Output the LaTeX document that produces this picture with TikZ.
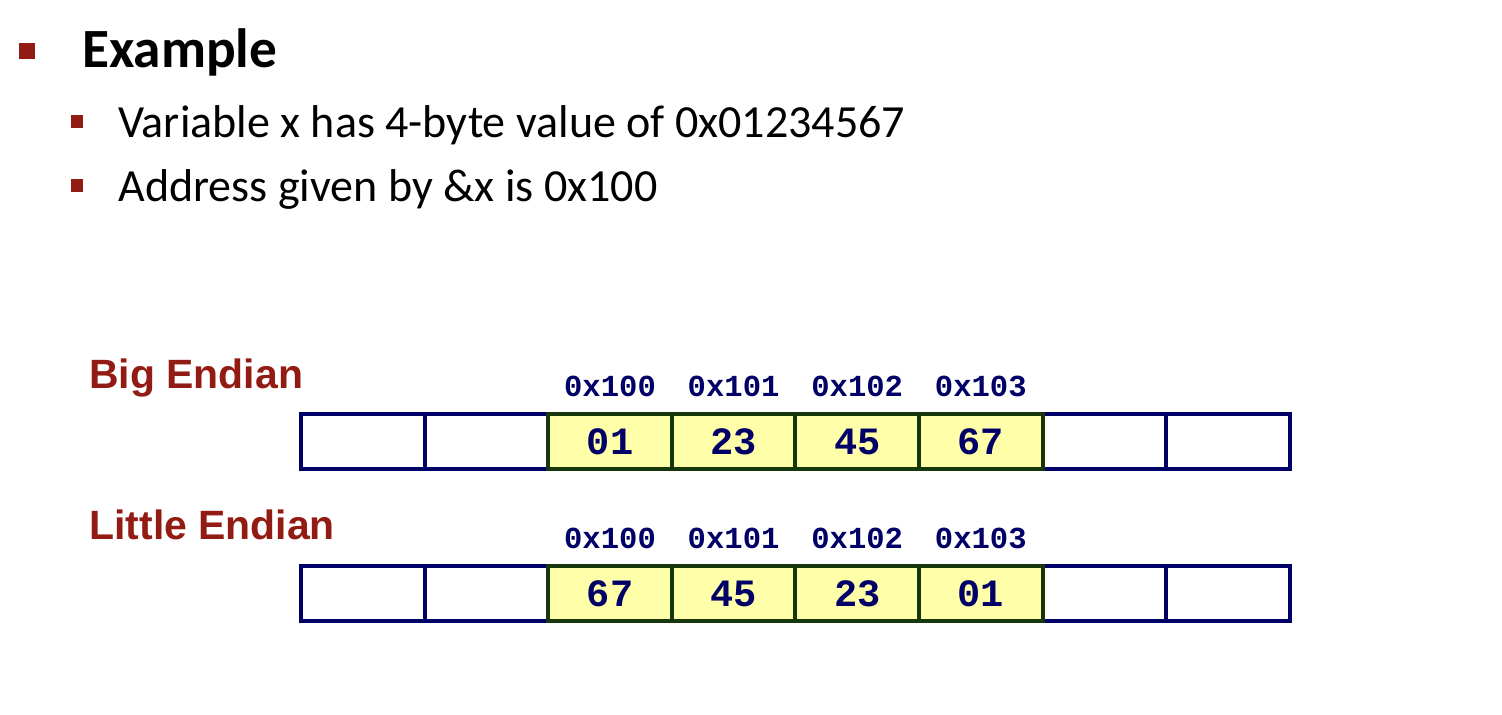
\documentclass[tikz,border=0pt]{standalone}
\usepackage{fontspec}
\setmainfont{Carlito}
\newfontfamily\arialfont{Liberation Sans}
\newfontfamily\courierfont{Liberation Mono}
\usepackage{xcolor}
\usetikzlibrary{positioning}
\definecolor{darkred}{HTML}{921B14}
\definecolor{navy}{HTML}{000066}
\definecolor{cellfill}{HTML}{FFFFAA}
\definecolor{cellframe}{HTML}{17360C}

\begin{document}
\begin{tikzpicture}[x=0.02cm,y=-0.02cm]
\tikzset{cell/.style={draw=navy,line width=0.08cm,fill=white,minimum width=2.472cm,minimum height=1.1cm,inner sep=0pt,outer sep=0pt},byte/.style={cell,draw=cellframe,fill=cellfill,text=navy,font=\courierfont\bfseries\fontsize{22}{26}\selectfont},addr/.style={text=navy,font=\courierfont\bfseries\fontsize{17.4}{20}\selectfont,inner sep=0pt},title/.style={text=darkred,font=\arialfont\bfseries\fontsize{23.3}{27}\selectfont,inner sep=0pt,anchor=base west},point/.style={font=\fontsize{26.2}{30}\selectfont,inner sep=0pt,anchor=base west},bigsq/.style={fill=darkred,minimum size=0.32cm,inner sep=0pt},smallsq/.style={fill=darkred,minimum size=0.26cm,inner sep=0pt}}
\useasboundingbox (0,0) rectangle (1502,714);
% heading and bullets
\node[bigsq] (sq0) at (27,51) {};
\node[font=\bfseries\fontsize{31.5}{36}\selectfont,inner sep=0pt,anchor=base west] (head) at (82,67) {Example};
\node[smallsq] (sq1) at (77,121) {};
\node[point] (p1) at (118,137) {Variable x has 4-byte value of 0x01234567};
\node[smallsq] (sq2) at (77,185) {};
\node[point] (p2) at (118,201) {Address given by \&x is 0x100};
% the two memory rows
\node[title] (big) at (89,388) {Big Endian};
\node[title] (little) at (89,539) {Little Endian};
\foreach \i in {1,2,7,8} {
  \node[cell] (b\i) at (301+123.6*\i-61.8,441.5) {};
  \node[cell] (l\i) at (301+123.6*\i-61.8,593.5) {};
}
\foreach \i/\u/\w/\a in {3/01/67/0x100,4/23/45/0x101,5/45/23/0x102,6/67/01/0x103} {
  \node[byte] (b\i) at (301+123.6*\i-61.8,441.5) {\u};
  \node[byte] (l\i) at (301+123.6*\i-61.8,593.5) {\w};
  \node[addr,above=0.34cm of b\i] (ab\i) {\a};
  \node[addr,above=0.34cm of l\i] (al\i) {\a};
}
\end{tikzpicture}
\end{document}
